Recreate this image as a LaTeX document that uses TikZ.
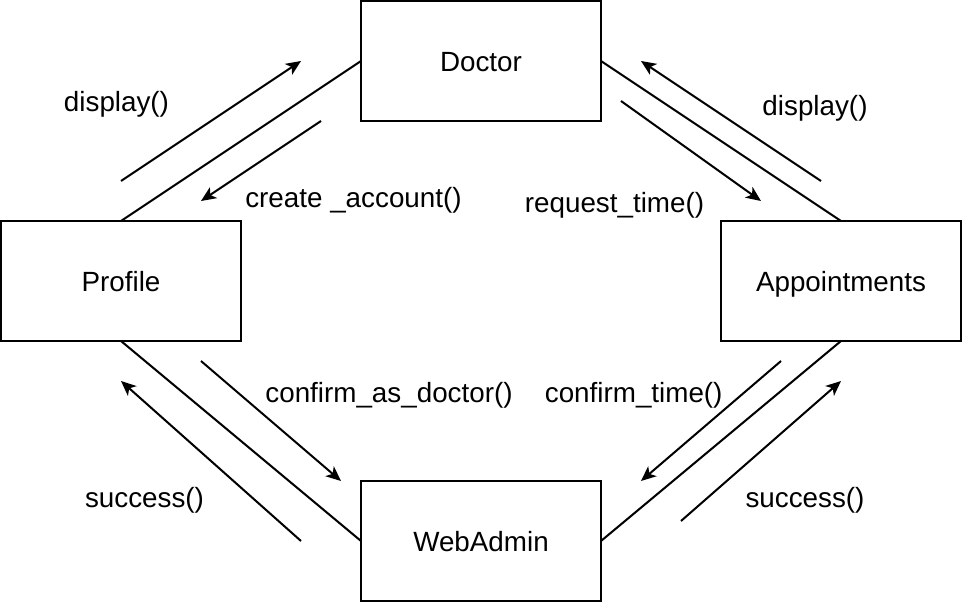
\documentclass[tikz,border=0pt]{standalone}
\usepackage{fontspec}
\setmainfont{Liberation Sans}
\usetikzlibrary{arrows.meta}
\begin{document}
\begin{tikzpicture}[x=1pt,y=-1pt,
  box/.style={draw, line width=2pt, minimum width=240pt, minimum height=120pt,
    outer sep=0pt, inner sep=0pt, text height=21pt, text depth=0pt,
    font=\fontsize{27.8}{32}\selectfont},
  link/.style={line width=2pt},
  msg/.style={line width=2pt, -{Stealth[length=15pt,width=13pt,inset=4pt]}},
  lbl/.style={anchor=base, inner sep=0pt, font=\fontsize{27.8}{32}\selectfont}]
\useasboundingbox (0,0) rectangle (962,602);
\fill[white] (0,0) rectangle (962,602);
% boxes
\node[box] (doctor) at (481,61) {Doctor};
\node[box] (profile) at (121,281) {Profile};
\node[box] (appt) at (841,281) {Appointments};
\node[box] (admin) at (481,541) {WebAdmin};
% links
\draw[link] (profile.north) -- (doctor.west);
\draw[link] (doctor.east) -- (appt.north);
\draw[link] (profile.south) -- (admin.west);
\draw[link] (appt.south) -- (admin.east);
% message end points
\coordinate (d1s) at (121,181); \coordinate (d1e) at (301,61);
\coordinate (c1s) at (321,121); \coordinate (c1e) at (201,201);
\coordinate (d2s) at (821,181); \coordinate (d2e) at (641,61);
\coordinate (r1s) at (621,101); \coordinate (r1e) at (761,201);
\coordinate (ca1s) at (201,361); \coordinate (ca1e) at (341,481);
\coordinate (s1s) at (301,541); \coordinate (s1e) at (121,381);
\coordinate (ct1s) at (781,361); \coordinate (ct1e) at (641,481);
\coordinate (s2s) at (681,521); \coordinate (s2e) at (841,381);
% messages
\draw[msg] (d1s) -- (d1e);
\draw[msg] (c1s) -- (c1e);
\draw[msg] (d2s) -- (d2e);
\draw[msg] (r1s) -- (r1e);
\draw[msg] (ca1s) -- (ca1e);
\draw[msg] (s1s) -- (s1e);
\draw[msg] (ct1s) -- (ct1e);
\draw[msg] (s2s) -- (s2e);
% labels
\node[lbl] (ldisp1) at (116.5,112) {display()};
\node[lbl] (lcreate) at (353.5,207.5) {create \_account()};
\node[lbl] (ldisp2) at (815,116) {display()};
\node[lbl] (lreq) at (614.5,212) {request\_time()};
\node[lbl] (lconfd) at (389,402) {confirm\_as\_doctor()};
\node[lbl] (lconft) at (633.7,402) {confirm\_time()};
\node[lbl] (lsucc1) at (144.5,507) {success()};
\node[lbl] (lsucc2) at (805,507) {success()};
\end{tikzpicture}
\end{document}
